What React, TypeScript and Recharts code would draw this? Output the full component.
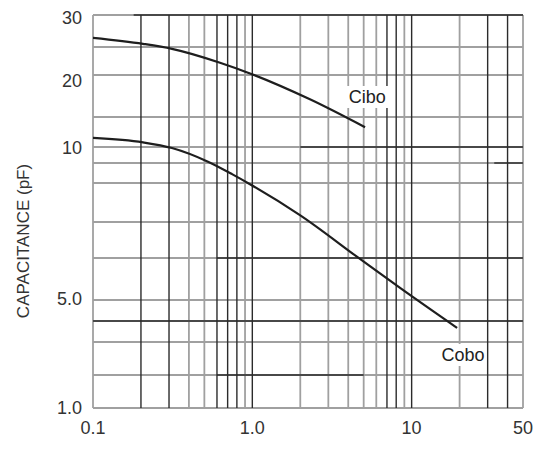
import React from 'react';
import { ComposedChart, Line, XAxis, YAxis, ReferenceLine, ReferenceDot } from 'recharts';

// x axis (log)
const xTicks = [0.1, 1, 10, 50];
const xTickLabels = ['0.1', '1.0', '10', '50'];

// y axis: the printed grid is not a true log scale, so each labelled value
// has its own spot on the axis (axis units, 0 = bottom, 393 = top)
const yTicks = [1, 5, 10, 20, 30];
const yTickLabels = ['1.0', '5.0', '10', '20', '30'];
const yTickPos = [0, 109, 260, 327, 390];

// series (x = volts, c = pF)
const ciboX = [0.1, 0.206, 0.313, 0.627, 0.967, 2.3, 5.1];
const ciboC = [26.4, 25.4, 24.6, 22.5, 21.0, 16.55, 12.4];
const coboX = [0.1, 0.206, 0.313, 0.527, 0.746, 0.967, 1.99, 4.74, 8.46, 19.3];
const coboC = [11.1, 10.6, 10.0, 9.39, 8.87, 8.47, 7.35, 6.01, 5.26, 3.26];

// grid lines
const vGridGray = [0.4, 0.5, 0.9, 2, 3, 4, 5, 6, 9, 20];
const vGridDark = [0.2, 0.3, 0.6, 0.7, 0.8, 1, 7, 8, 10, 30, 40];
const hGrid = [361, 333, 291, 261, 245, 225, 186, 150, 108, 87, 66, 33];
// dark stretches of horizontal lines: [y, xFrom, xTo]
const hGridDark: [number, number, number][] = [
  [393, 0.18, 50],
  [261, 2, 50],
  [245, 33, 50],
  [150, 0.6, 50],
  [87, 0.1, 50],
  [33, 0.6, 5],
];

const GRAY = '#a0a0a0';
const DARK = '#2b2b2b';
const FONT = '"Liberation Sans", Arial, sans-serif';

const capToPos = (c: number) => {
  for (let i = 0; i < yTicks.length - 1; i++) {
    if (c <= yTicks[i + 1] || i === yTicks.length - 2) {
      const f = (Math.log10(c) - Math.log10(yTicks[i])) / (Math.log10(yTicks[i + 1]) - Math.log10(yTicks[i]));
      return yTickPos[i] + f * (yTickPos[i + 1] - yTickPos[i]);
    }
  }
  return 0;
};

const cibo = ciboX.map((x, i) => ({ x, y: capToPos(ciboC[i]) }));
const cobo = coboX.map((x, i) => ({ x, y: capToPos(coboC[i]) }));

const TagShape = (text: string) => (p: any) => (
  <g>
    <rect x={p.cx - 23} y={p.cy - 11} width={46} height={22} fill="#fff" />
    <text x={p.cx} y={p.cy} textAnchor="middle" dominantBaseline="central" fontSize={18} fontFamily={FONT} fill="#222">
      {text}
    </text>
  </g>
);

const YLabel = () => (
  <text x={23} y={241} transform="rotate(-90 23 241)" textAnchor="middle" dominantBaseline="central"
    fontSize={17} fontFamily={FONT} fill="#333">
    CAPACITANCE (pF)
  </text>
);

export default function App() {
  return (
    <div style={{ position: 'absolute', left: 0, top: 0, background: '#fff' }}>
      <ComposedChart width={535} height={457} margin={{ top: 15, right: 12, bottom: 19, left: 0 }}>
        <XAxis
          dataKey="x"
          type="number"
          scale="log"
          domain={[0.1, 50]}
          ticks={xTicks}
          allowDataOverflow
          axisLine={false}
          tickLine={false}
          tickMargin={7}
          height={30}
          tick={{ fontSize: 18, fontFamily: FONT, fill: '#333' }}
          tickFormatter={(v: number) => xTickLabels[xTicks.findIndex((t) => Math.abs(t - v) < 1e-9)] ?? ''}
        />
        <YAxis
          type="number"
          domain={[0, 393]}
          ticks={yTickPos}
          allowDataOverflow
          axisLine={false}
          tickLine={false}
          tickMargin={5}
          width={93}
          tick={{ fontSize: 18, fontFamily: FONT, fill: '#333' }}
          tickFormatter={(v: number) => yTickLabels[yTickPos.indexOf(v)] ?? ''}
          label={<YLabel />}
        />
        {hGrid.map((y) => (
          <ReferenceLine key={'h' + y} y={y} stroke={GRAY} strokeWidth={1.8} />
        ))}
        {vGridGray.map((x) => (
          <ReferenceLine key={'vg' + x} x={x} stroke={GRAY} strokeWidth={1.8} />
        ))}
        <ReferenceLine x={0.1} stroke={GRAY} strokeWidth={1.8} />
        <ReferenceLine x={50} stroke={GRAY} strokeWidth={1.8} />
        <ReferenceLine y={0} stroke={GRAY} strokeWidth={1.8} />
        <ReferenceLine y={393} stroke={GRAY} strokeWidth={1.8} />
        {hGridDark.map(([y, a, b]) => (
          <ReferenceLine key={'hd' + y} segment={[{ x: a, y }, { x: b, y }]} stroke={DARK} strokeWidth={1.4} />
        ))}
        {vGridDark.map((x) => (
          <ReferenceLine key={'vd' + x} x={x} stroke={DARK} strokeWidth={1.4} />
        ))}
        <ReferenceDot x={5.26} y={311} r={0} ifOverflow="visible" shape={TagShape('Cibo')} />
        <ReferenceDot x={21} y={53} r={0} ifOverflow="visible" shape={TagShape('Cobo')} />
        <Line data={cibo} dataKey="y" type="monotone" stroke="#1e1e1e" strokeWidth={2.2} dot={false} isAnimationActive={false} />
        <Line data={cobo} dataKey="y" type="monotone" stroke="#1e1e1e" strokeWidth={2.2} dot={false} isAnimationActive={false} />
      </ComposedChart>
    </div>
  );
}
